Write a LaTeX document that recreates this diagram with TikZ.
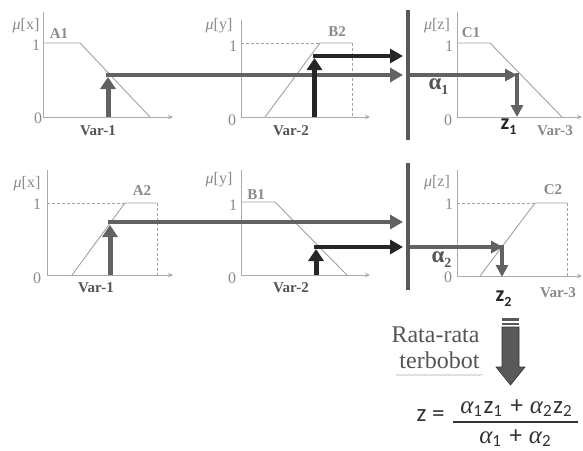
\documentclass[tikz,border=0pt]{standalone}
\usepackage{fontspec}
\setmainfont{Liberation Serif}
\newfontfamily\calib{Carlito}
\usetikzlibrary{arrows.meta,decorations.pathmorphing}
\definecolor{axc}{HTML}{ABABAB}
\definecolor{mfc}{HTML}{A2A2A2}
\definecolor{lbc}{HTML}{8A8A8A}
\definecolor{grarr}{HTML}{626262}
\definecolor{blarr}{HTML}{262626}
\definecolor{barc}{HTML}{595959}
\definecolor{txtd}{HTML}{555555}
\definecolor{fmc}{HTML}{333333}
\newcommand\fs[1]{\raisebox{-3pt}{\fontsize{17}{17}\selectfont #1}\hspace{1.5pt}}
\newcommand\fal{{\rmfamily\itshape α}}
\newcommand\fplus{\hspace{7pt}+\hspace{7pt}}
\newcommand\asub[1]{\raisebox{-5pt}{\fontsize{14}{14}\selectfont #1}}
\tikzset{
  axisln/.style={draw=axc, line width=0.9pt, -{Stealth[length=5pt,width=4.5pt]}},
  yaxisln/.style={draw=axc, line width=0.9pt},
  mfln/.style={draw=mfc, line width=0.9pt},
  dshln/.style={draw=mfc, line width=0.8pt, dash pattern=on 3pt off 2pt},
  inarr/.style={line width=5pt, -{Triangle[length=12pt,width=15pt]}},
  harr/.style={line width=4pt, -{Triangle[length=13pt,width=14pt]}},
  outarr/.style={line width=4pt, draw=grarr, -{Triangle[length=12pt,width=12pt]}},
  barln/.style={draw=barc, line width=4.5pt},
  mulbl/.style={text=lbc, font=\fontsize{16}{18}\selectfont},
  ticklbl/.style={text=lbc, font=\fontsize{16}{18}\selectfont},
  setlbl/.style={text=lbc, font=\fontsize{15}{18}\selectfont\bfseries},
  varlbl/.style={text=txtd, font=\fontsize{15}{18}\selectfont\bfseries},
  var3lbl/.style={text=lbc, font=\fontsize{15}{18}\selectfont\bfseries},
  alab/.style={text=txtd, anchor=base west, font=\fontsize{23}{26}\selectfont\bfseries},
  zlab/.style={text=blarr, anchor=base west, font=\fontsize{22}{24}\selectfont\calib\bfseries},
  fmtxt/.style={text=fmc, font=\fontsize{25}{28}\selectfont\calib},
  bigtxt/.style={text=txtd, anchor=base east, font=\fontsize{24}{28}\selectfont},
}
\begin{document}
\begin{tikzpicture}[x=1pt,y=-1pt]
\useasboundingbox[fill=white] (0,0) rectangle (583,450);

% ================= TOP ROW =================
% panel 1
\coordinate (o1) at (43,117); \coordinate (y1t) at (43,12); \coordinate (x1e) at (173,117);
\draw[yaxisln] (o1) -- (y1t);
\draw[axisln] (o1) -- (x1e);
\coordinate (a1p) at (43,43); \coordinate (a1q) at (80,43); \coordinate (a1r) at (150,117);
\draw[mfln] (a1p) -- (a1q) -- (a1r);
\node[mulbl] (mu1) at (26,26) {\textit{μ}[x]};
\node[setlbl] (lA1) at (59,34) {A1};
\node[ticklbl] (one1) at (36,45) {1};
\node[ticklbl] (zero1) at (38,118) {0};
\node[varlbl] (var1a) at (98,131) {Var-1};

% panel 2
\coordinate (o2) at (241,117); \coordinate (y2t) at (241,20); \coordinate (x2e) at (370,117);
\draw[yaxisln] (o2) -- (y2t);
\draw[axisln] (o2) -- (x2e);
\coordinate (b2p) at (265,117); \coordinate (b2q) at (320,43); \coordinate (b2r) at (352,43);
\coordinate (b2l) at (241,43); \coordinate (b2d) at (352,117);
\draw[mfln] (b2p) -- (b2q) -- (b2r);
\draw[dshln] (b2l) -- (b2q);
\draw[dshln] (b2r) -- (b2d);
\node[mulbl] (mu2) at (219,26) {\textit{μ}[y]};
\node[setlbl] (lB2) at (337,32) {B2};
\node[ticklbl] (one2) at (233,46) {1};
\node[ticklbl] (zero2) at (232,120) {0};
\node[varlbl] (var2a) at (291,131) {Var-2};

% panel 3
\coordinate (o3) at (457,117); \coordinate (y3t) at (457,12); \coordinate (x3e) at (582,117);
\draw[yaxisln] (o3) -- (y3t);
\draw[axisln] (o3) -- (x3e);
\coordinate (c1p) at (457,43); \coordinate (c1q) at (490,43); \coordinate (c1r) at (562,117);
\draw[mfln] (c1p) -- (c1q) -- (c1r);
\node[mulbl] (mu3) at (437,26) {\textit{μ}[z]};
\node[setlbl] (lC1) at (471,33) {C1};
\node[ticklbl] (one3) at (449,46) {1};
\node[ticklbl] (zero3) at (448,120) {0};
\node[var3lbl] (var3a) at (555,131) {Var-3};

% bar top
\coordinate (bt1) at (408,10); \coordinate (bt2) at (408,140);
\draw[barln] (bt1) -- (bt2);

% arrows top
\coordinate (in1b) at (108,117); \coordinate (in1t) at (108,77);
\draw[inarr, draw=grarr] (in1b) -- (in1t);
\coordinate (h1s) at (106,75); \coordinate (h1e) at (403,75);
\draw[harr, draw=grarr] (h1s) -- (h1e);
\coordinate (in2b) at (314.5,117); \coordinate (in2t) at (314.5,58);
\draw[inarr, draw=blarr] (in2b) -- (in2t);
\coordinate (h2s) at (312.5,56); \coordinate (h2e) at (403,56);
\draw[harr, draw=blarr] (h2s) -- (h2e);
\coordinate (al1s) at (410,75); \coordinate (al1e) at (517,75);
\draw[outarr] (al1s) -- (al1e);
\coordinate (z1s) at (517,73); \coordinate (z1e) at (517,117);
\draw[outarr] (z1s) -- (z1e);
\node[alab] (alpha1) at (425,89) {α\asub{1}};
\node[zlab] (zz1) at (497,129) {z\asub{1}};

% ================= BOTTOM ROW =================
% panel 4
\coordinate (o4) at (47,275); \coordinate (y4t) at (47,170); \coordinate (x4e) at (173,275);
\draw[yaxisln] (o4) -- (y4t);
\draw[axisln] (o4) -- (x4e);
\coordinate (a2p) at (72,275); \coordinate (a2q) at (125,203); \coordinate (a2r) at (157,203);
\coordinate (a2l) at (47,203); \coordinate (a2d) at (157,275);
\draw[mfln] (a2p) -- (a2q) -- (a2r);
\draw[dshln] (a2l) -- (a2q);
\draw[dshln] (a2r) -- (a2d);
\node[mulbl] (mu4) at (27,184) {\textit{μ}[x]};
\node[setlbl] (lA2) at (142,191) {A2};
\node[ticklbl] (one4) at (37,204) {1};
\node[ticklbl] (zero4) at (37,278) {0};
\node[varlbl] (var1b) at (96,288) {Var-1};

% panel 5
\coordinate (o5) at (241,275); \coordinate (y5t) at (241,170); \coordinate (x5e) at (370,275);
\draw[yaxisln] (o5) -- (y5t);
\draw[axisln] (o5) -- (x5e);
\coordinate (b1p) at (241,202); \coordinate (b1q) at (275,202); \coordinate (b1r) at (347,275);
\draw[mfln] (b1p) -- (b1q) -- (b1r);
\node[mulbl] (mu5) at (219,180) {\textit{μ}[y]};
\node[setlbl] (lB1) at (256,195) {B1};
\node[ticklbl] (one5) at (233,205) {1};
\node[ticklbl] (zero5) at (232,278) {0};
\node[varlbl] (var2b) at (291,288) {Var-2};

% panel 6
\coordinate (o6) at (457,276); \coordinate (y6t) at (457,170); \coordinate (x6e) at (582,276);
\draw[yaxisln] (o6) -- (y6t);
\draw[axisln] (o6) -- (x6e);
\coordinate (c2p) at (480,276); \coordinate (c2q) at (535,203); \coordinate (c2r) at (567,203);
\coordinate (c2l) at (457,203); \coordinate (c2d) at (567,276);
\draw[mfln] (c2p) -- (c2q) -- (c2r);
\draw[dshln] (c2l) -- (c2q);
\draw[dshln] (c2r) -- (c2d);
\node[mulbl] (mu6) at (437,183) {\textit{μ}[z]};
\node[setlbl] (lC2) at (553,190) {C2};
\node[ticklbl] (one6) at (449,204) {1};
\node[ticklbl] (zero6) at (448,277) {0};
\node[var3lbl] (var3b) at (558,293) {Var-3};

% bar bottom
\coordinate (bb1) at (408,163); \coordinate (bb2) at (408,290);
\draw[barln] (bb1) -- (bb2);

% arrows bottom
\coordinate (in4b) at (110,275); \coordinate (in4t) at (110,225);
\draw[inarr, draw=grarr] (in4b) -- (in4t);
\coordinate (h4s) at (108,222); \coordinate (h4e) at (403,222);
\draw[harr, draw=grarr] (h4s) -- (h4e);
\coordinate (in5b) at (316,275); \coordinate (in5t) at (316,249);
\draw[inarr, draw=blarr] (in5b) -- (in5t);
\coordinate (h5s) at (314,247); \coordinate (h5e) at (403,247);
\draw[harr, draw=blarr] (h5s) -- (h5e);
\coordinate (al2s) at (410,247); \coordinate (al2e) at (503,247);
\draw[outarr] (al2s) -- (al2e);
\coordinate (z2s) at (502,245); \coordinate (z2e) at (502,277);
\draw[outarr] (z2s) -- (z2e);
\node[alab] (alpha2) at (428,262) {α\asub{2}};
\node[zlab] (zz2) at (492,301) {z\asub{2}};

% ================= DEFUZZIFICATION =================
\fill[barc] (502,318) rectangle (519,320.5);
\fill[barc] (502,322.5) rectangle (519,325);
\fill[barc, draw=fmc, line width=0.6pt] (502,327) -- (519,327) -- (519,367) -- (525,367)
  -- (510.5,385) -- (496,367) -- (502,367) -- cycle;
\node[bigtxt] (rata) at (483,342) {Rata-rata};
\node[bigtxt] (terb) at (483,368) {terbobot};
\draw[draw=gray!45, line width=0.6pt, decorate, decoration={snake, amplitude=0.7pt, segment length=3pt}]
  ([yshift=-7pt]terb.base west) -- ([yshift=-7pt]terb.base east);

\node[fmtxt, anchor=base west] (fz) at (413,421) {z =};
\node[fmtxt, anchor=base] (fnum) at (516,413) {\fal\fs{1}z\fs{1}\fplus\fal\fs{2}z\fs{2}};
\node[fmtxt, anchor=base] (fden) at (515,443) {\fal\fs{1}\fplus\fal\fs{2}};
\coordinate (fbl) at (453,422); \coordinate (fbr) at (578,422);
\draw[draw=fmc, line width=1.6pt] (fbl) -- (fbr);
\end{tikzpicture}
\end{document}
